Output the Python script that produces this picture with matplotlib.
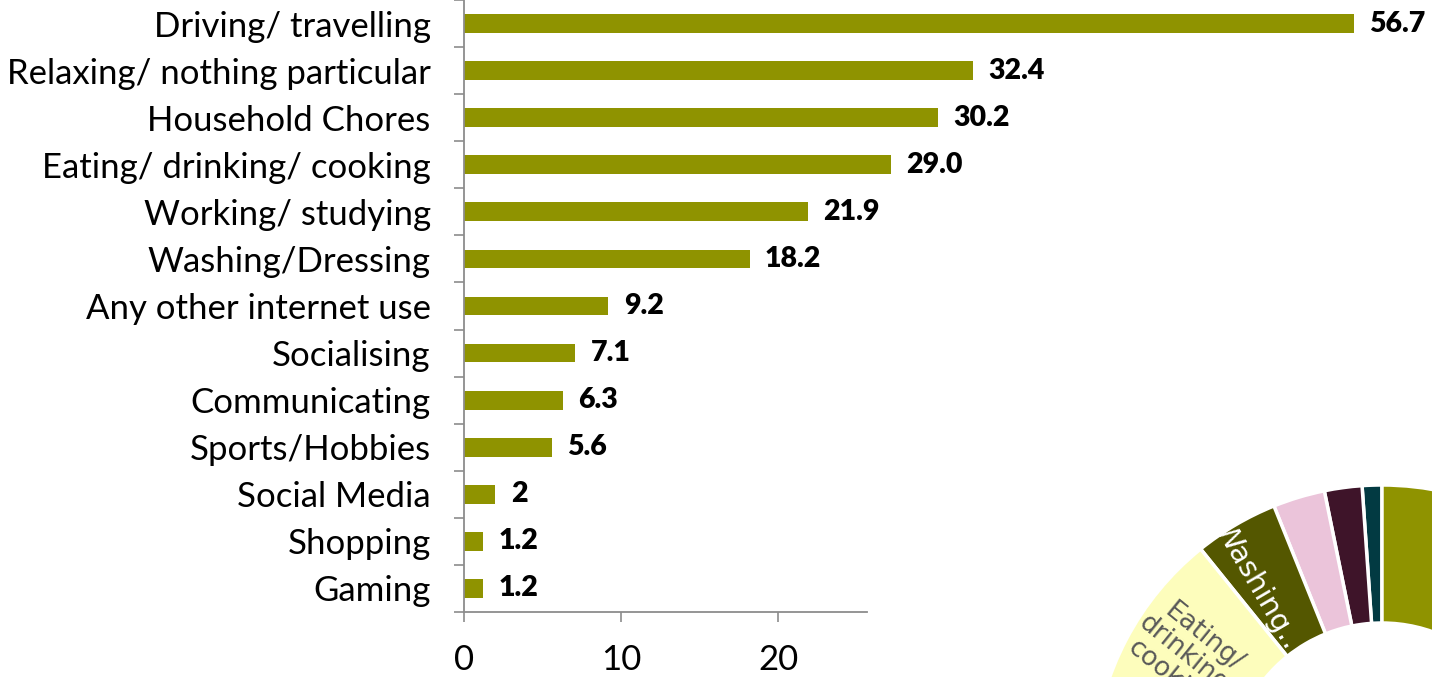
import matplotlib
matplotlib.use("Agg")
import matplotlib.pyplot as plt
import numpy as np

categories = ["Driving/ travelling", "Relaxing/ nothing particular", "Household Chores",
              "Eating/ drinking/ cooking", "Working/ studying", "Washing/Dressing",
              "Any other internet use", "Socialising", "Communicating", "Sports/Hobbies",
              "Social Media", "Shopping", "Gaming"]
# bar lengths as drawn in the reference (the "29.0" bar is drawn shorter, ~27.2)
values = [56.7, 32.4, 30.2, 27.2, 21.9, 18.2, 9.2, 7.1, 6.3, 5.6, 2, 1.2, 1.2]
value_labels = ["56.7", "32.4", "30.2", "29.0", "21.9", "18.2", "9.2", "7.1", "6.3", "5.6", "2", "1.2", "1.2"]
xticks = [0, 10, 20]

# donut (partially visible, counter-clockwise from 12 o'clock)
donut_labels = ["", "", "", "Washing…", "Eating/\ndrinking/\ncooking", "", "", ""]
donut_values = [1.1, 2.1, 2.9, 4.7, 13.0, 8.0, 10.0, 58.2]
donut_colors = ["#023a42", "#3e1429", "#ebc4da", "#545700", "#fdfdbc", "#b8bc3c", "#d6d88a", "#8f9300"]

BAR = "#8f9300"
SPINE = "#8c8c8c"
W, H = 1432, 677
fig = plt.figure(figsize=(W / 100, H / 100), dpi=100)

x0, y_bot = 464, 612
xmax = 61
ax = fig.add_axes([x0 / W, 1 - y_bot / H, xmax * 15.7 / W, y_bot / H])
y = np.arange(len(categories))
ax.barh(y, values, height=0.4, color=BAR)
ax.set_ylim(len(categories) - 0.5, -0.5)
ax.set_xlim(0, xmax)

font = "Lato"
for yi, v, lab in zip(y, values, value_labels):
    ax.annotate(lab, (v, yi), xytext=(11, 0), textcoords="offset points",
                ha="left", va="center", fontsize=20.5, fontweight="heavy",
                family=font, color="black")

ax.set_yticks(y)
ax.set_yticklabels(categories, fontsize=25, family=font)
ax.set_yticks(np.arange(-0.5, len(categories) + 0.5, 1), minor=True)
ax.tick_params(axis="y", which="major", length=0, pad=24)
ax.tick_params(axis="y", which="minor", length=7, width=1.2, color=SPINE, direction="out")
ax.set_xticks(xticks)
ax.set_xticklabels([str(t) for t in xticks], fontsize=25, family=font)
ax.tick_params(axis="x", length=7, width=1.2, color=SPINE, pad=16)
for s in ["top", "right"]:
    ax.spines[s].set_visible(False)
for s in ["left", "bottom"]:
    ax.spines[s].set_color(SPINE)
    ax.spines[s].set_linewidth(1.3)
ax.spines["bottom"].set_bounds(0, 25.7)
ax.patch.set_alpha(0)

# donut
cx, cy, R = 1382, 774, 289
dax = fig.add_axes([(cx - R) / W, (H - cy - R) / H, 2 * R / W, 2 * R / H])
dax.pie(donut_values, colors=donut_colors, startangle=90, counterclock=True,
        radius=1, wedgeprops=dict(width=138 / 289, edgecolor="white", linewidth=2.5))
dax.set_xlim(-1, 1)
dax.set_ylim(-1, 1)
dax.axis("off")
dax.text(-0.426, 0.637, donut_labels[3], rotation=-59.6, rotation_mode="anchor",
         ha="center", va="center", color="white", fontsize=21, family="DejaVu Sans")
dax.text(-0.675, 0.405, donut_labels[4], rotation=-39, rotation_mode="anchor",
         ha="center", va="center", multialignment="center", color="#595959",
         fontsize=19, family="DejaVu Sans", linespacing=1.0)

fig.savefig("out.png", dpi=100)
